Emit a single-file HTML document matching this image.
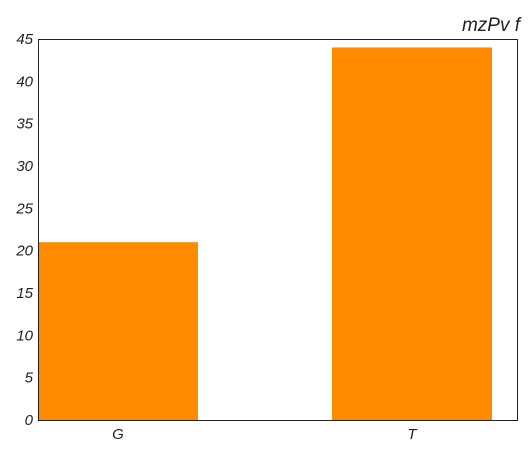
<!DOCTYPE html>
<html><head><meta charset="utf-8"><style>
body{margin:0;background:#fff;}
svg text{font-family:"Liberation Sans",sans-serif;font-style:italic;fill:#222;}
</style></head><body>
<svg width="532" height="456">
<text x="520" y="31" font-size="19" text-anchor="end">mzPv f</text>
<g id="bars"></g>
<g id="yticks"></g>
<g id="xticks"></g>
<rect x="38.5" y="39.5" width="479" height="381" fill="none" stroke="#222" stroke-width="1"/>
</svg>
<script>
const categories = ["G","T"];
const values = [21,44];
const yTicks = [0,5,10,15,20,25,30,35,40,45];
const NS="http://www.w3.org/2000/svg";
const y = v => 420 - v*(381/45);
const xc = i => 118 + i*294;
const barW = 160;
const bars=document.getElementById('bars');
values.forEach((v,i)=>{
  const r=document.createElementNS(NS,'rect');
  r.setAttribute('x',xc(i)-barW/2);r.setAttribute('y',y(v));
  r.setAttribute('width',barW);r.setAttribute('height',y(0)-y(v));
  r.setAttribute('fill','#ff8a00');
  
  
  bars.appendChild(r);
});
const yt=document.getElementById('yticks');
yTicks.forEach(t=>{
  const e=document.createElementNS(NS,'text');
  e.setAttribute('x',33);e.setAttribute('y',y(t)+5);
  e.setAttribute('text-anchor','end');e.setAttribute('font-size','15');
  e.textContent=t;
  
  
  yt.appendChild(e);
});
const xt=document.getElementById('xticks');
categories.forEach((c,i)=>{
  const e=document.createElementNS(NS,'text');
  e.setAttribute('x',xc(i));e.setAttribute('y',439);
  e.setAttribute('text-anchor','middle');e.setAttribute('font-size','15');
  e.textContent=c;
  
  
  xt.appendChild(e);
});
</script>
</body></html>
